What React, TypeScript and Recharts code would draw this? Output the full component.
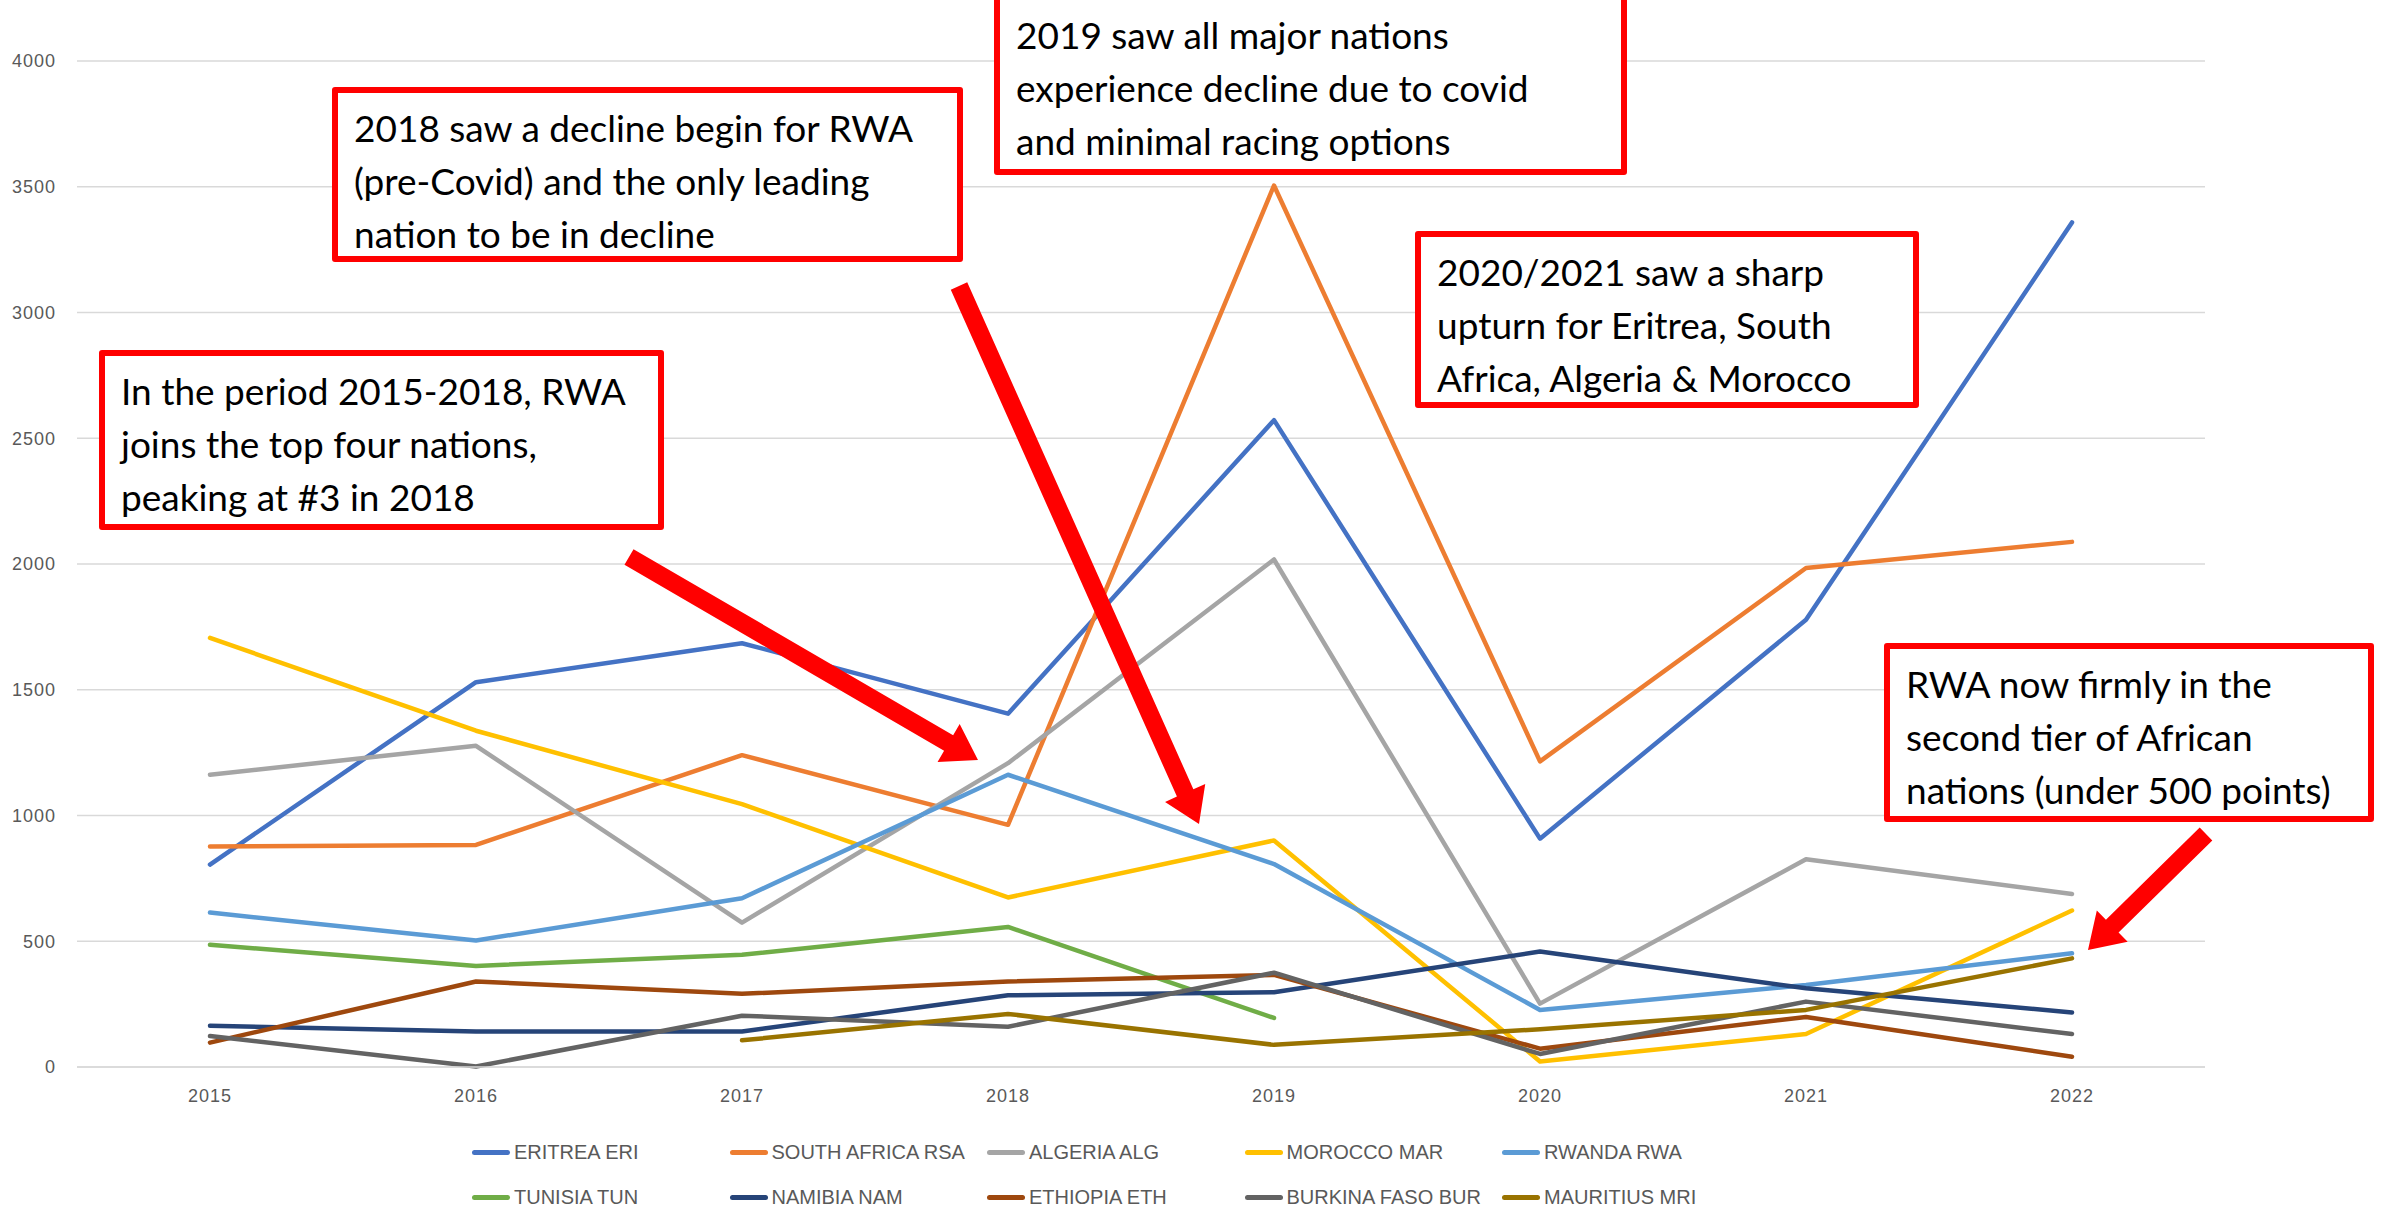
import { LineChart, Line, XAxis, YAxis, CartesianGrid } from 'recharts';

const years = ['2015', '2016', '2017', '2018', '2019', '2020', '2021', '2022'];
const yTicks = [0, 500, 1000, 1500, 2000, 2500, 3000, 3500, 4000];

const eritrea = [805, 1530, 1685, 1405, 2572, 908, 1778, 3358];
const southAfrica = [877, 883, 1240, 963, 3505, 1215, 1984, 2088];
const algeria = [1162, 1277, 574, 1208, 2018, 252, 826, 688];
const morocco = [1706, 1337, 1045, 674, 901, 22, 131, 622];
const rwanda = [614, 503, 671, 1162, 807, 227, 326, 452];
const tunisia = [486, 402, 446, 557, 195, null, null, null];
const namibia = [164, 141, 141, 285, 297, 459, 313, 217];
const ethiopia = [97, 340, 291, 340, 366, 73, 199, 41];
const burkinaFaso = [123, 2, 204, 160, 375, 52, 260, 131];
const mauritius = [null, null, 106, 211, 88, 150, 227, 432];

const series = [
  { key: 'eri', name: 'ERITREA ERI', color: '#4472C4', values: eritrea },
  { key: 'rsa', name: 'SOUTH AFRICA RSA', color: '#ED7D31', values: southAfrica },
  { key: 'alg', name: 'ALGERIA ALG', color: '#A5A5A5', values: algeria },
  { key: 'mar', name: 'MOROCCO MAR', color: '#FFC000', values: morocco },
  { key: 'rwa', name: 'RWANDA RWA', color: '#5B9BD5', values: rwanda },
  { key: 'tun', name: 'TUNISIA TUN', color: '#70AD47', values: tunisia },
  { key: 'nam', name: 'NAMIBIA NAM', color: '#264478', values: namibia },
  { key: 'eth', name: 'ETHIOPIA ETH', color: '#9E480E', values: ethiopia },
  { key: 'bur', name: 'BURKINA FASO BUR', color: '#636363', values: burkinaFaso },
  { key: 'mri', name: 'MAURITIUS MRI', color: '#997300', values: mauritius },
];

const notes = [
  { left: 99, top: 350, width: 565, height: 180, lines: ['In the period 2015-2018, RWA', 'joins the top four nations,', 'peaking at #3 in 2018'] },
  { left: 332, top: 87, width: 631, height: 175, lines: ['2018 saw a decline begin for RWA', '(pre-Covid) and the only leading', 'nation to be in decline'] },
  { left: 994, top: -6, width: 633, height: 181, lines: ['2019 saw all major nations', 'experience decline due to covid', 'and minimal racing options'] },
  { left: 1415, top: 231, width: 504, height: 177, lines: ['2020/2021 saw a sharp', 'upturn for Eritrea, South', 'Africa, Algeria & Morocco'] },
  { left: 1884, top: 643, width: 490, height: 179, lines: ['RWA now firmly in the', 'second tier of African', 'nations (under 500 points)'] },
];

// arrows: start point -> tip
const arrows = [
  { x1: 629, y1: 557, x2: 978, y2: 760 },
  { x1: 959, y1: 286, x2: 1199, y2: 824 },
  { x1: 2206, y1: 834, x2: 2088, y2: 950 },
];

const data = years.map((year, i) => {
  const row: Record<string, any> = { year };
  series.forEach(s => { row[s.key] = s.values[i]; });
  return row;
});

function arrowPoints(a: { x1: number; y1: number; x2: number; y2: number }) {
  const dx = a.x2 - a.x1;
  const dy = a.y2 - a.y1;
  const len = Math.sqrt(dx * dx + dy * dy);
  const ux = dx / len, uy = dy / len;
  const px = -uy, py = ux;
  const shaft = 9, head = 22, headLen = 34;
  const bx = a.x2 - ux * headLen, by = a.y2 - uy * headLen;
  const pts = [
    [a.x1 + px * shaft, a.y1 + py * shaft],
    [bx + px * shaft, by + py * shaft],
    [bx + px * head, by + py * head],
    [a.x2, a.y2],
    [bx - px * head, by - py * head],
    [bx - px * shaft, by - py * shaft],
    [a.x1 - px * shaft, a.y1 - py * shaft],
  ];
  return pts.map(p => p.join(',')).join(' ');
}

const tickStyle = { fill: '#595959', fontSize: 18, fontFamily: 'Liberation Sans Narrow, Liberation Sans, sans-serif', letterSpacing: 1 };

export default function App() {
  return (
    <div style={{ position: 'absolute', left: 0, top: 0, width: 2387, height: 1210, background: '#fff', overflow: 'hidden' }}>
      <LineChart width={2387} height={1210} data={data} margin={{ top: 61, right: 182, left: 0, bottom: 113 }}>
        <CartesianGrid vertical={false} stroke="#d9d9d9" strokeWidth={1.5} />
        <XAxis
          dataKey="year"
          height={30}
          padding={{ left: 133, right: 133 }}
          tickLine={false}
          tickSize={0}
          tickMargin={22}
          axisLine={{ stroke: '#d9d9d9', strokeWidth: 1.5 }}
          tick={tickStyle}
        />
        <YAxis
          width={77}
          domain={[0, 4000]}
          ticks={yTicks}
          tickLine={false}
          tickSize={0}
          tickMargin={21}
          axisLine={false}
          tick={tickStyle}
        />
        {series.map(s => (
          <Line
            key={s.key}
            dataKey={s.key}
            name={s.name}
            stroke={s.color}
            strokeWidth={4.5}
            strokeLinejoin="round"
            strokeLinecap="round"
            dot={false}
            activeDot={false}
            type="linear"
            isAnimationActive={false}
          />
        ))}
      </LineChart>

      {/* legend */}
      {series.map((s, i) => (
        <div
          key={s.key}
          style={{
            position: 'absolute',
            left: 472 + (i % 5) * 257.5,
            top: i < 5 ? 1140 : 1185,
            height: 24,
            display: 'flex',
            alignItems: 'center',
            fontFamily: 'Liberation Sans Narrow, Liberation Sans, sans-serif',
            fontSize: 20,
            color: '#595959',
            whiteSpace: 'nowrap',
          }}
        >
          <span style={{ display: 'inline-block', width: 38, height: 5, borderRadius: 3, background: s.color, marginRight: 4 }} />
          {s.name}
        </div>
      ))}

      {/* annotation arrows */}
      <svg width={2387} height={1210} style={{ position: 'absolute', left: 0, top: 0, pointerEvents: 'none' }}>
        {arrows.map((a, i) => (
          <polygon key={i} points={arrowPoints(a)} fill="#FF0000" />
        ))}
      </svg>

      {/* annotation boxes */}
      {notes.map((n, i) => (
        <div
          key={i}
          style={{
            position: 'absolute',
            left: n.left,
            top: n.top,
            width: n.width,
            height: n.height,
            boxSizing: 'border-box',
            border: '6px solid #FF0000',
            borderRadius: 3,
            background: '#fff',
            padding: '8px 0 0 16px',
            fontFamily: 'Lato, sans-serif',
            fontSize: 37,
            lineHeight: '53px',
            color: '#000',
            whiteSpace: 'nowrap',
          }}
        >
          {n.lines.map((l, j) => (
            <div key={j}>{l}</div>
          ))}
        </div>
      ))}
    </div>
  );
}
